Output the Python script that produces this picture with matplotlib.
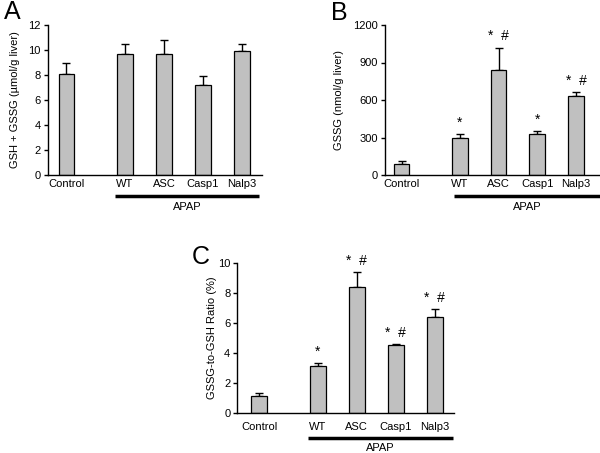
import numpy as np
import matplotlib
matplotlib.use("Agg")
from matplotlib import pyplot as plt

plt.rcParams['font.family'] = ['Liberation Sans', 'DejaVu Sans']

# data
groups = ['Control', 'WT', 'ASC', 'Casp1', 'Nalp3']
xpos = [0, 1.5, 2.5, 3.5, 4.5]

total_gsh = [8.1, 9.7, 9.7, 7.2, 9.9]
total_gsh_err = [0.9, 0.8, 1.1, 0.7, 0.6]

gssg = [90, 295, 840, 325, 630]
gssg_err = [20, 30, 180, 25, 35]
gssg_marks = ['', '*', '*  #', '*', '*  #']

ratio = [1.1, 3.1, 8.4, 4.5, 6.4]
ratio_err = [0.2, 0.2, 1.0, 0.1, 0.5]
ratio_marks = ['', '*', '*  #', '*  #', '*  #']

W, H = 600, 453
fig = plt.figure(figsize=(6, 4.53), dpi=100)


def panel(rect, vals, errs, marks, ymax, ystep, ylabel, letter, xlim,
          line_x, lab_y, line_y, apap_y, letter_xy, ylabel_x):
    ax = fig.add_axes(rect)
    ax.bar(xpos, vals, width=0.4, color='#c0c0c0', edgecolor='black',
           linewidth=0.9, zorder=2)
    ax.errorbar(xpos, vals, yerr=[np.zeros(len(errs)), errs], fmt='none',
                ecolor='black', elinewidth=1.0, capsize=3, capthick=1.0, zorder=1)
    for x, v, e, m in zip(xpos, vals, errs, marks):
        if m:
            ax.annotate(m, (x, v + e), xytext=(0, 3), textcoords='offset points',
                        ha='center', va='bottom', fontsize=10)
    ax.set_xlim(*xlim)
    ax.set_ylim(0, ymax)
    ax.set_yticks(np.arange(0, ymax + ystep / 2, ystep))
    ax.set_xticks([])
    for s in ['top', 'right']:
        ax.spines[s].set_visible(False)
    ax.spines['left'].set_linewidth(1.0)
    ax.spines['bottom'].set_linewidth(1.0)
    ax.tick_params(axis='y', labelsize=8, length=3, width=1.0, pad=2)
    tr = ax.get_xaxis_transform()
    for x, g in zip(xpos, groups):
        ax.text(x, lab_y, g, transform=tr, ha='center', va='center', fontsize=8)
    ax.plot(line_x, [line_y, line_y], transform=tr, color='black', lw=2.5,
            clip_on=False, solid_capstyle='butt')
    ax.text(sum(line_x) / 2, apap_y, 'APAP', transform=tr, ha='center',
            va='center', fontsize=8)
    fig.text(ylabel_x / W, (rect[1] + rect[3] / 2), ylabel, rotation=90,
             ha='center', va='center', fontsize=8)
    fig.text(letter_xy[0] / W, 1 - letter_xy[1] / H, letter, ha='center',
             va='center', fontsize=18)
    return ax


panel([47.7 / W, 1 - 175 / H, (262 - 47.7) / W, 150 / H],
      total_gsh, total_gsh_err, ['', '', '', '', ''], 12, 2,
      'GSH + GSSG (µmol/g liver)', 'A', (-0.48, 5.01),
      [1.24, 4.94], -0.06, -0.14, -0.213, (12, 12), 15)

panel([385 / W, 1 - 175 / H, (600 - 385) / W, 150 / H],
      gssg, gssg_err, gssg_marks, 1200, 300,
      'GSSG (nmol/g liver)', 'B', (-0.43, 5.12),
      [1.35, 5.12], -0.06, -0.14, -0.213, (339, 13), 339)

panel([237.3 / W, 1 - 412.7 / H, (454 - 237.3) / W, 150 / H],
      ratio, ratio_err, ratio_marks, 10, 2,
      'GSSG-to-GSH Ratio (%)', 'C', (-0.56, 4.99),
      [1.26, 4.97], -0.095, -0.169, -0.233, (201, 257), 212)

fig.savefig('out.png', dpi=100)
